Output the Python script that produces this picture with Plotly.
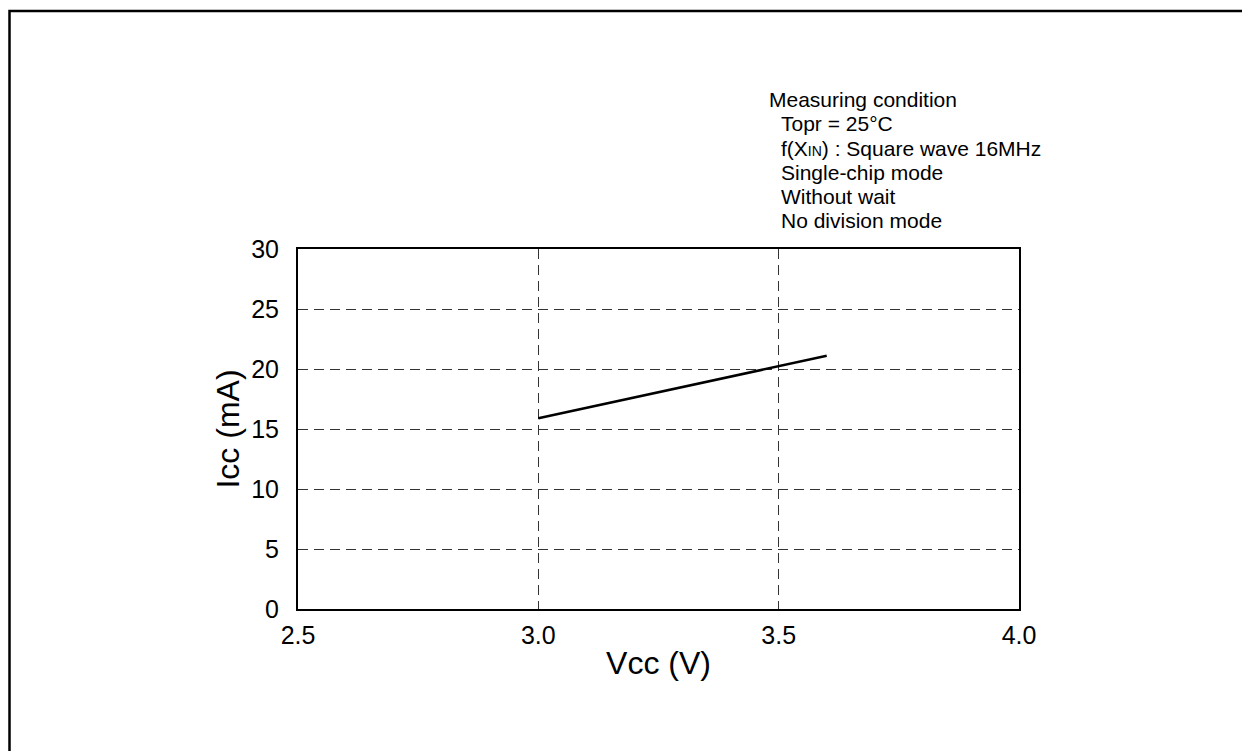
import plotly.graph_objects as go

# Data
vcc = [3.0, 3.6]
icc = [15.9, 21.1]
x_ticks = [2.5, 3.0, 3.5, 4.0]
x_tick_text = ["2.5", "3.0", "3.5", "4.0"]
y_ticks = [0, 5, 10, 15, 20, 25, 30]
cond_title = "Measuring condition"
cond_lines = [
    "Topr = 25°C",
    "f(X<span style='font-size:14px'>IN</span>) : Square wave 16MHz",
    "Single-chip mode",
    "Without wait",
    "No division mode",
]

W, H = 1250, 751
OX, OY = 7, 7  # page offset of the body margin
L, R, T, B = 297 - OX, 1018 - OX, 248 - OY, 608 - OY
pw, ph = R - L, B - T


def px(x):
    return (x - OX - L) / pw


def py(y):
    return (B - (y - OY)) / ph


FONT = "Liberation Sans, Arial, sans-serif"

fig = go.Figure()
fig.add_trace(go.Scatter(x=vcc, y=icc, mode="lines",
                         line=dict(color="black", width=2.5),
                         showlegend=False, hoverinfo="skip"))

grid_common = dict(showgrid=True, gridcolor="#333333", gridwidth=1,
                   griddash="10px,6px", zeroline=False,
                   showline=True, linecolor="black", linewidth=2, mirror=True,
                   ticks="", tickfont=dict(family=FONT, size=25, color="black"))

fig.update_xaxes(range=[2.5, 4.0], tickvals=x_ticks, ticktext=x_tick_text,
                 ticklabelstandoff=3,
                 title=dict(text="Vcc (V)",
                            font=dict(family=FONT, size=32, color="black"),
                            standoff=4),
                 **grid_common)
fig.update_yaxes(range=[0, 30], tickvals=y_ticks,
                 ticklabelstandoff=12,
                 title=dict(text="Icc (mA)",
                            font=dict(family=FONT, size=32, color="black"),
                            standoff=2),
                 **grid_common)

annotations = [dict(x=px(766), y=py(99), xref="paper", yref="paper",
                    text=cond_title, showarrow=False, xanchor="left", yanchor="middle",
                    font=dict(family=FONT, size=21, color="black"))]
line_y = [123, 147, 171, 195, 219]
for t, yy in zip(cond_lines, line_y):
    annotations.append(dict(x=px(778), y=py(yy), xref="paper", yref="paper",
                            text=t, showarrow=False, xanchor="left", yanchor="middle",
                            font=dict(family=FONT, size=21, color="black")))

shapes = [dict(type="rect", xref="paper", yref="paper",
               x0=px(OX + 1.5), x1=px(1280), y0=py(10), y1=py(790),
               line=dict(color="black", width=2.5), fillcolor="rgba(0,0,0,0)",
               layer="below")]

fig.update_layout(width=W, height=H,
                  margin=dict(l=L, r=W - R, t=T, b=H - B, autoexpand=False),
                  paper_bgcolor="white", plot_bgcolor="white",
                  annotations=annotations, shapes=shapes,
                  font=dict(family=FONT, color="black"))

fig.write_html("out.html")
